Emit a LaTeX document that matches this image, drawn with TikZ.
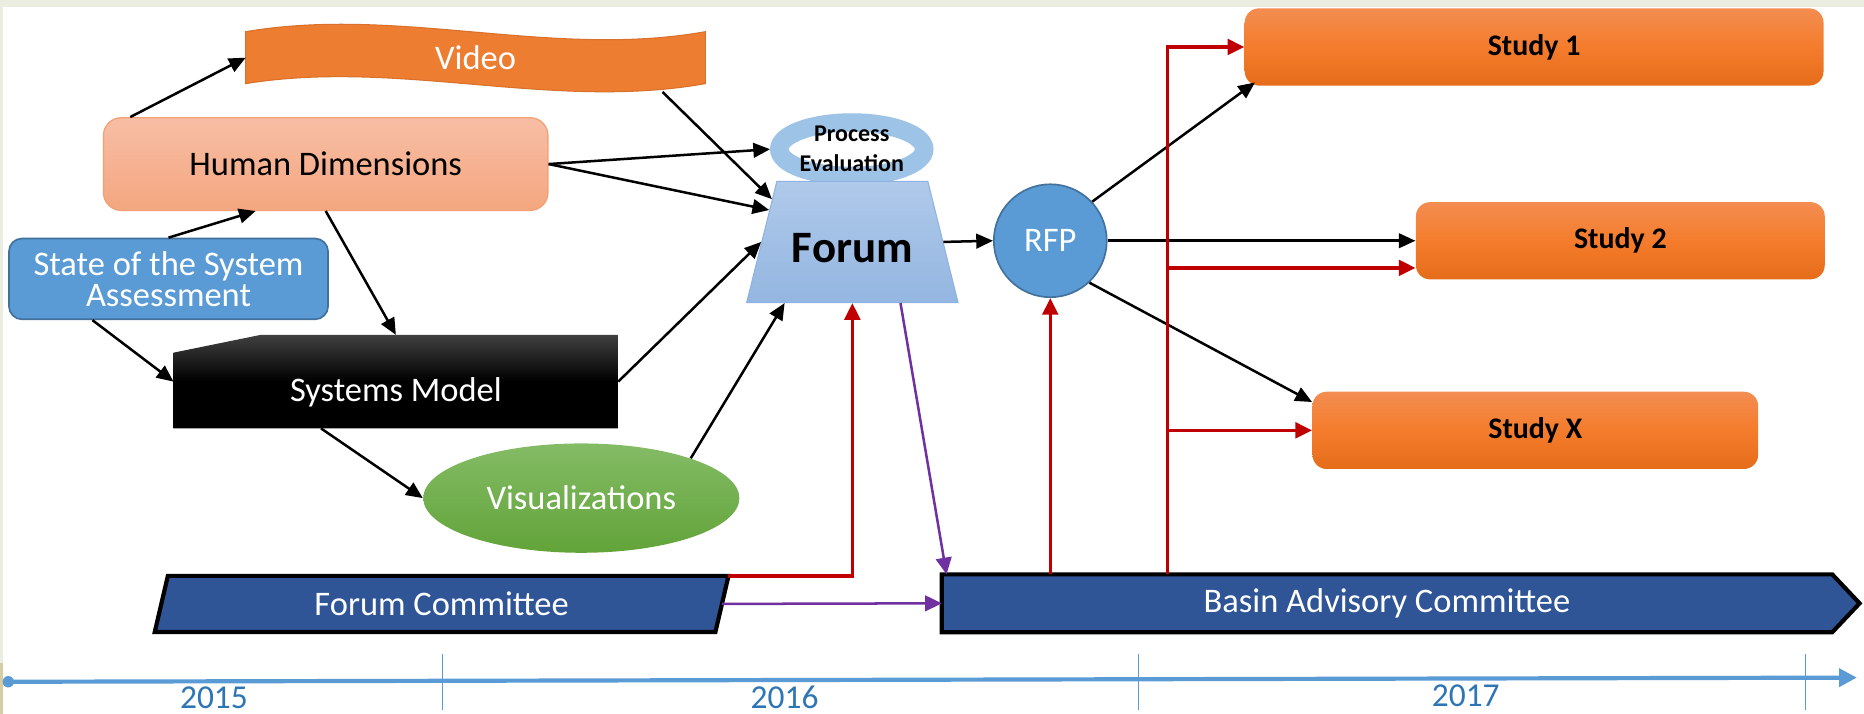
\documentclass[tikz,border=0pt]{standalone}
\usepackage{fontspec}
\setmainfont{Carlito}
\usetikzlibrary{shapes.geometric,arrows.meta,calc}
\pgfdeclarelayer{bg}
\pgfsetlayers{bg,main}
\definecolor{bgstrip}{HTML}{EBEDE0}
\definecolor{bgtan}{HTML}{D6CDA5}
\definecolor{vidorange}{HTML}{ED7D31}
\definecolor{videdge}{HTML}{D9712B}
\definecolor{hdtop}{HTML}{F7BEA5}
\definecolor{hdbot}{HTML}{F4A67F}
\definecolor{hdedge}{HTML}{F2A074}
\definecolor{statefill}{HTML}{5B9BD5}
\definecolor{stateedge}{HTML}{41719C}
\definecolor{vistop}{HTML}{84BC66}
\definecolor{visbot}{HTML}{62A339}
\definecolor{forumtop}{HTML}{AFC9EA}
\definecolor{forumbot}{HTML}{94B6E1}
\definecolor{forumedge}{HTML}{8FB3E0}
\definecolor{ringblue}{HTML}{9DC3E6}
\definecolor{studytop}{HTML}{F38D51}
\definecolor{studymid}{HTML}{F47C2C}
\definecolor{studybot}{HTML}{E56C19}
\definecolor{cmtblue}{HTML}{2F5597}
\definecolor{redline}{HTML}{C00000}
\definecolor{purpleline}{HTML}{7030A0}
\definecolor{tlblue}{HTML}{5B9BD5}
\definecolor{yearblue}{HTML}{2E75B6}

\begin{document}
\begin{tikzpicture}[x=0.02cm,y=-0.02cm]
        \tikzstyle{every node}=[inner sep=0pt, align=center, font=\fontsize{16.5}{15}\selectfont]
        \tikzstyle{study}=[rectangle, rounded corners=0.24cm, minimum height=1.3cm, top color=studytop, bottom color=studybot, middle color=studymid, font=\fontsize{14.3}{16}\selectfont\bfseries]
        \tikzstyle{committee}=[draw=black, fill=cmtblue, line width=2pt, line join=miter]
        \tikzstyle{link}=[draw=black, line width=1.2pt, -{Triangle[length=8pt,width=7pt]}]
        \tikzstyle{redlink}=[draw=redline, line width=1.6pt, -{Triangle[length=8pt,width=7.5pt]}]
        \tikzstyle{purplelink}=[draw=purpleline, line width=1.2pt, -{Triangle[length=8pt,width=7.5pt]}]
        \tikzstyle{year}=[text=yearblue, font=\fontsize{16}{18}\selectfont]

        \begin{pgfonlayer}{bg}
            \fill[white] (0,0) rectangle (1568,600.6);
            \fill[bgstrip] (0,0) rectangle (1568,6);
            \fill[bgstrip] (0,0) rectangle (2.5,558);
            \fill[bgtan] (0,558) rectangle (2.5,600.6);
        \end{pgfonlayer}
        \useasboundingbox (0,0) rectangle (1568,600.6);

        \node[minimum width=7.72cm, minimum height=0.86cm, text=white] (video) at (400,48.5) {Video};
        \node[rectangle, rounded corners=0.3cm, minimum width=7.48cm, minimum height=1.56cm, top color=hdtop, bottom color=hdbot, draw=hdedge, line width=0.6pt] (hd) at (274,138) {Human Dimensions};
        \node[rectangle, rounded corners=0.22cm, minimum width=5.37cm, minimum height=1.36cm, fill=statefill, draw=stateedge, line width=0.8pt, text=white] (state) at (141.75,234.6) {State of the System\\Assessment};
        \node[minimum width=7.47cm, minimum height=1.56cm, text height=0.656cm, text depth=0pt, text=white] (sysmod) at (333,321) {Systems Model};
        \node[ellipse, minimum width=5.32cm, minimum height=1.84cm, top color=vistop, bottom color=visbot, text=white] (vis) at (489,419) {Visualizations};

        \node[ellipse, draw=ringblue, line width=0.31cm, minimum width=2.44cm, minimum height=0.9cm] (proceval) at (716.5,125.5) {};
        \node[trapezium, trapezium angle=76, text width=2.04cm, inner xsep=0.25cm, inner ysep=0.67cm, top color=forumtop, bottom color=forumbot, draw=forumedge, line width=0.5pt, text height=0.7cm, text depth=0pt, font=\fontsize{21.5}{24}\selectfont\bfseries] (forum) at (717,203.5) {Forum};
        \node[font=\fontsize{11.5}{14.2}\selectfont\bfseries] (proctxt) at (716.5,125) {Process\\Evaluation};

        \node[circle, minimum size=1.9cm, fill=statefill, draw=stateedge, line width=0.8pt, text=white] (rfp) at (883.5,202.5) {RFP};

        \foreach \s/\lbl/\xx/\yy/\w in {1/Study 1/1290.5/39.5/9.74, 2/Study 2/1363/202.5/6.88, x/Study X/1291.5/362/7.5} {
            \node[study, minimum width=\w cm] (study_\s) at (\xx,\yy) {\lbl};
        }

        \node[minimum width=9.42cm, minimum height=0.93cm, text=white] (fc) at (371.5,508) {Forum Committee};
        \node[minimum width=14.97cm, minimum height=0.96cm, text=white] (bac) at (1166.75,507.5) {Basin Advisory Committee};

        \begin{pgfonlayer}{bg}
            \fill[vidorange, draw=videdge, line width=0.5pt] (video.north west) .. controls +(129,-22) and +(-129,23) .. (video.north east) -- (video.south east) .. controls +(-129,23) and +(129,-21) .. (video.south west) -- cycle;
            \shade[top color=black!75, bottom color=black, middle color=black] ([yshift=-0.3cm]sysmod.north west) -- ([xshift=1.47cm]sysmod.north west) -- (sysmod.north east) -- (sysmod.south east) -- (sysmod.south west) -- cycle;
            \draw[committee] ([xshift=0.11cm]fc.north west) -- ([xshift=0.11cm]fc.north east) -- ([xshift=-0.11cm]fc.south east) -- ([xshift=-0.11cm]fc.south west) -- cycle;
            \draw[committee] (bac.north west) -- (bac.north east) -- ([xshift=0.46cm]bac.east) -- (bac.south east) -- (bac.south west) -- cycle;
        \end{pgfonlayer}

        \draw[link] ([xshift=0.46cm]hd.north west) -- (video.west);
        \draw[link] (state.north) -- ([xshift=-1.18cm]hd.south);
        \draw[link] (hd.south) -- (sysmod.north);
        \draw[link] ([xshift=-1.28cm]state.south) -- (sysmod.west);
        \draw[link] ([xshift=-1.26cm]sysmod.south) -- (vis.west);
        \draw[link] ([xshift=-0.72cm,yshift=-0.14cm]video.south east) -- (forum.152);
        \draw[link] (hd.east) -- (proceval.west);
        \draw[link] (hd.east) -- (forum.159);
        \draw[link] (sysmod.east) -- (forum.west);
        \draw[link] (vis.20) -- ([xshift=-1.14cm]forum.south);
        \draw[link] (forum.east) -- (rfp.west);
        \draw[link] (rfp.43) -- ([xshift=0.18cm,yshift=0.06cm]study_1.south west);
        \draw[link] (rfp.east) -- (study_2.west);
        \draw[link] (rfp.313) -- ([yshift=-0.18cm]study_x.north west);

        \coordinate (bus) at ([xshift=3.8cm]bac.north west);
        \coordinate (s2_in) at ([yshift=0.2cm]study_2.south west);
        \draw[redlink] ([xshift=0.11cm]fc.north east) -| (forum.south);
        \draw[redlink] (rfp.south |- bac.north) -- (rfp.south);
        \draw[redlink] (bus) |- (study_1.west);
        \draw[redlink] (bus |- s2_in) -- (s2_in);
        \draw[redlink] (bus |- study_x.west) -- (study_x.west);

        \draw[purplelink] ([xshift=0.81cm]forum.south) -- ([xshift=0.08cm]bac.north west);
        \draw[purplelink] (fc.east) -- (bac.west);

        \begin{scope}
            \coordinate (tl_start) at (7,573.5);
            \coordinate (tl_end) at (1562,570);
            \foreach \xx in {372.5,958,1519} {
                \draw[tlblue, line width=0.6pt] (\xx,550) -- (\xx,597);
            }
            \draw[tlblue, line width=2pt, -{Triangle[length=8.5pt,width=8.5pt]}] (tl_start) -- (tl_end);
            \fill[tlblue] (tl_start) circle (0.096cm);
            \foreach \yr/\xx/\yy in {2015/180/587, 2016/660/587, 2017/1233/585} {
                \node[year] (yr_\yr) at (\xx,\yy) {\yr};
            }
        \end{scope}
\end{tikzpicture}
\end{document}
